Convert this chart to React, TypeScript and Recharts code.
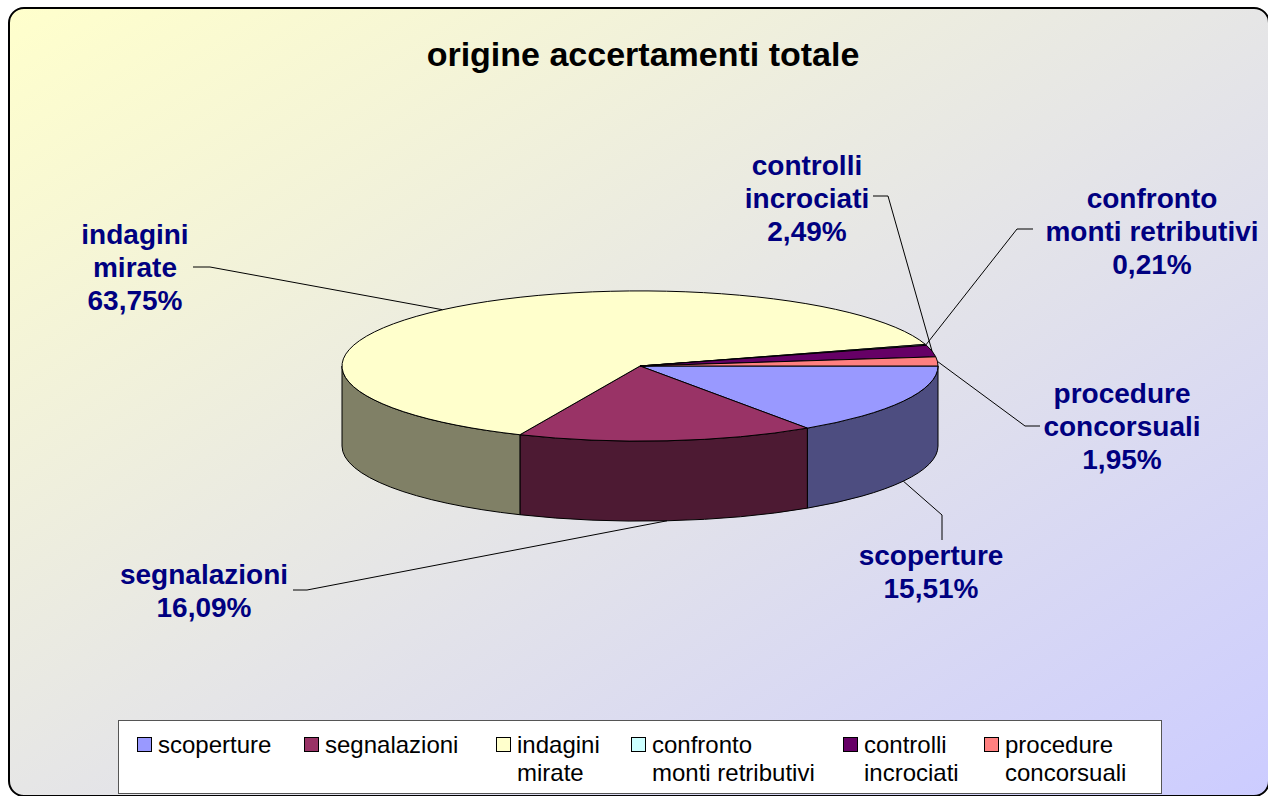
// 3D-look pie (Excel style) built on Recharts' own sector angles.
import { Cell, Legend, Pie, PieChart } from 'recharts'

const categoryLines = [
  ['scoperture'],
  ['segnalazioni'],
  ['indagini', 'mirate'],
  ['confronto', 'monti retributivi'],
  ['controlli', 'incrociati'],
  ['procedure', 'concorsuali'],
]
const categories = categoryLines.map((lines) => lines.join(' '))
const shares = [15.51, 16.09, 63.75, 0.21, 2.49, 1.95]
const sliceColors = ['#9999FF', '#993366', '#FFFFCC', '#CCFFFF', '#660066', '#FF8080']

const data = categories.map((name, i) => ({ name, value: shares[i] }))

const FONT = 'Arial, "Liberation Sans", sans-serif'
const CX = 640
const CY = 366
const RX = 298
const TILT = 0.252
const DEPTH = 80

// label text position (centre x, first baseline) and leader bend points
const LABEL_LAYOUT = [
  { x: 931, y: 565, leader: [[942, 515], [942, 540]] },
  { x: 204, y: 584, leader: [[307, 590], [293, 590]] },
  { x: 135, y: 244, leader: [[210, 267], [193, 267]] },
  { x: 1152, y: 208, leader: [[1017, 229], [1033, 229]] },
  { x: 807, y: 175, leader: [[888, 196], [873, 196]] },
  { x: 1122, y: 403, leader: [[1025, 426], [1040, 426]] },
]
// legend item slot widths (Excel spaces them by text length)
const LEGEND_SLOTS = [167, 192, 135, 212, 141, 150]

function darken(hex: string, k = 0.5) {
  const n = parseInt(hex.slice(1), 16)
  const r = Math.round(((n >> 16) & 255) * k)
  const g = Math.round(((n >> 8) & 255) * k)
  const b = Math.round((n & 255) * k)
  return `rgb(${r},${g},${b})`
}

function SliceShape(props: any) {
  const { cx, cy, outerRadius: rx, startAngle, endAngle, fill } = props
  const ry = rx * TILT
  const pt = (deg: number, dy = 0) => {
    const a = (deg * Math.PI) / 180
    return `${cx + rx * Math.cos(a)},${cy - ry * Math.sin(a) + dy}`
  }
  const span = Math.abs(startAngle - endAngle)
  const top = `M${cx},${cy} L${pt(startAngle)} A${rx},${ry} 0 ${span > 180 ? 1 : 0} 1 ${pt(endAngle)} Z`
  // front wall: the part of the slice in the lower half of the ellipse
  const hi = Math.min(startAngle, 0)
  const lo = Math.max(endAngle, -180)
  let side: string | null = null
  if (hi > lo) {
    side = `M${pt(hi)} A${rx},${ry} 0 0 1 ${pt(lo)} L${pt(lo, DEPTH)} A${rx},${ry} 0 0 0 ${pt(hi, DEPTH)} Z`
  }
  return (
    <g>
      {side && <path d={side} fill={darken(fill)} stroke="#000" strokeWidth={1} strokeLinejoin="round" />}
      <path d={top} fill={fill} stroke="#000" strokeWidth={1} strokeLinejoin="round" />
    </g>
  )
}

function renderLabel(props: any) {
  const { cx, cy, midAngle, outerRadius, index, value } = props
  const a = (midAngle * Math.PI) / 180
  const front = Math.sin(a) < 0
  const ax = cx + outerRadius * Math.cos(a)
  const ay = cy - outerRadius * TILT * Math.sin(a) + (front ? DEPTH : 0)
  const layout = LABEL_LAYOUT[index]
  const pts = [[ax, ay], ...layout.leader].map((p) => p.join(',')).join(' ')
  const lines = [...categoryLines[index], `${Number(value).toFixed(2).replace('.', ',')}%`]
  return (
    <g key={`lbl-${index}`}>
      <polyline points={pts} fill="none" stroke="#000" strokeWidth={1} />
      <text x={layout.x} y={layout.y} textAnchor="middle" fill="#000080" fontFamily={FONT} fontWeight="bold" fontSize={28}>
        {lines.map((line, i) => (
          <tspan key={i} x={layout.x} dy={i === 0 ? 0 : 33}>
            {line}
          </tspan>
        ))}
      </text>
    </g>
  )
}

function LegendBox(props: any) {
  const payload = props.payload ?? []
  return (
    <div
      style={{
        boxSizing: 'border-box',
        width: 1044,
        height: 74,
        background: '#fff',
        border: '1px solid #555',
        display: 'flex',
        alignItems: 'flex-start',
        paddingLeft: 18,
        paddingTop: 10,
        fontFamily: FONT,
        fontSize: 24,
        lineHeight: '28px',
        color: '#000',
      }}
    >
      {payload.map((entry: any, i: number) => (
        <div key={i} style={{ display: 'flex', alignItems: 'flex-start', width: LEGEND_SLOTS[i], flex: 'none' }}>
          <span
            style={{
              width: 13,
              height: 13,
              marginTop: 6,
              marginRight: 6,
              background: sliceColors[i],
              border: '1px solid #000',
              flex: 'none',
            }}
          />
          <span style={{ whiteSpace: 'nowrap' }}>
            {categoryLines[i].map((line, j) => (
              <div key={j}>{line}</div>
            ))}
          </span>
        </div>
      ))}
    </div>
  )
}

export default function App() {
  return (
    <div style={{ position: 'absolute', left: 0, top: 0, width: 1268, height: 796, overflow: 'hidden' }}>
      <div
        style={{
          position: 'absolute',
          left: 8,
          top: 7,
          width: 1262,
          height: 790,
          boxSizing: 'border-box',
          border: '2px solid #000',
          borderRadius: 16,
          background: 'linear-gradient(to bottom right, #FFFFCC, #E6E6E6 50%, #CCCCFF)',
        }}
      />
      <div
        style={{
          position: 'absolute',
          left: 0,
          top: 38,
          width: 1286,
          textAlign: 'center',
          fontFamily: FONT,
          fontWeight: 'bold',
          fontSize: 34,
          lineHeight: '33px',
        }}
      >
        origine accertamenti totale
      </div>
      <div style={{ position: 'absolute', left: 0, top: 0 }}>
        <PieChart width={1268} height={796} margin={{ top: 0, right: 0, bottom: 0, left: 0 }}>
          <Pie
            data={data}
            dataKey="value"
            nameKey="name"
            cx={CX}
            cy={CY}
            outerRadius={RX}
            startAngle={0}
            endAngle={-360}
            stroke="#000"
            shape={SliceShape}
            inactiveShape={SliceShape}
            activeShape={SliceShape}
            label={renderLabel}
            labelLine={false}
            isAnimationActive={false}
          >
            {data.map((d, i) => (
              <Cell key={d.name} fill={sliceColors[i]} />
            ))}
          </Pie>
          <Legend
            content={LegendBox}
            verticalAlign="bottom"
            wrapperStyle={{ left: 118, top: 720, bottom: 'auto', width: 1044, height: 74 }}
          />
        </PieChart>
      </div>
    </div>
  )
}
